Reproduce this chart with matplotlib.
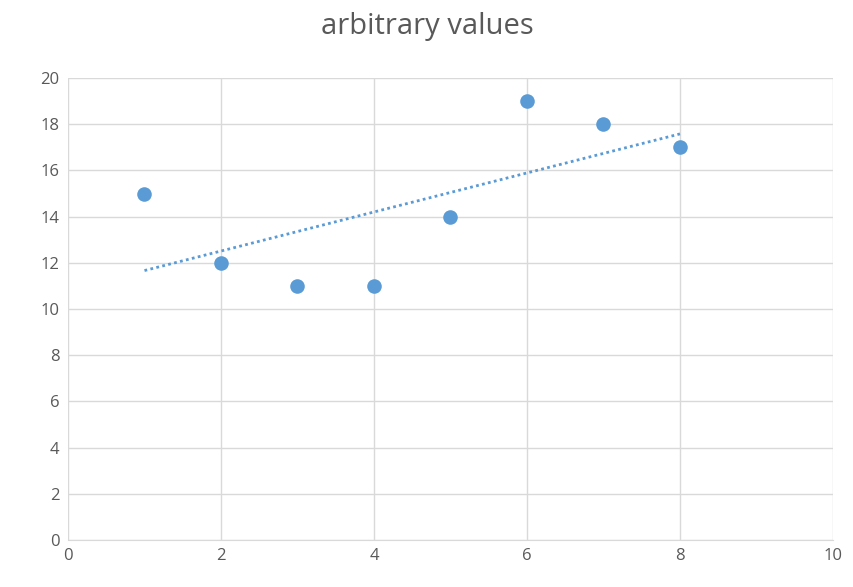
import numpy as np
import matplotlib.pyplot as plt

x_vals = [1, 2, 3, 4, 5, 6, 7, 8]
y_vals = [15, 12, 11, 11, 14, 19, 18, 17]
title = "arbitrary values"

blue = "#5B9BD5"
grey_text = "#595959"
grid_col = "#D9D9D9"

plt.rcParams['font.family'] = ['Open Sans', 'DejaVu Sans']

fig = plt.figure(figsize=(8.54, 5.87), dpi=100)
ax = fig.add_axes([0.0796, 0.080, 0.8958, 0.787])

ax.scatter(x_vals, y_vals, s=110, color=blue, zorder=3, linewidths=0)

# linear trendline
coef = np.polyfit(x_vals, y_vals, 1)
tx = np.array([min(x_vals), max(x_vals)])
ax.plot(tx, np.polyval(coef, tx), color=blue, linestyle=(0, (1, 1.2)), linewidth=2, zorder=2)

ax.set_xlim(0, 10)
ax.set_ylim(0, 20)
ax.set_xticks(range(0, 11, 2))
ax.set_yticks(range(0, 21, 2))
ax.grid(True, color=grid_col, linewidth=1)
ax.set_axisbelow(True)
for side in ["top", "right", "left"]:
    ax.spines[side].set_visible(False)
ax.spines["bottom"].set_color(grid_col)
ax.tick_params(length=0, labelsize=12, colors=grey_text, pad=6)

fig.text(0.5, 0.955, title, ha="center", va="center", fontsize=21, color=grey_text)

plt.savefig("out.png", dpi=100)
